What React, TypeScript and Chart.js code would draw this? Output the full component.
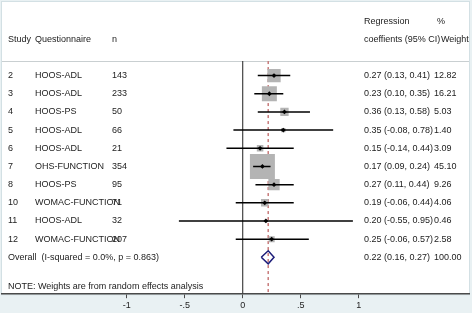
import React, { useEffect, useRef } from "react";
import { Chart, registerables } from "chart.js";
Chart.register(...registerables);

const studies = ["2", "3", "4", "5", "6", "7", "8", "10", "11", "12"];
const questionnaires = ["HOOS-ADL", "HOOS-ADL", "HOOS-PS", "HOOS-ADL", "HOOS-ADL", "OHS-FUNCTION", "HOOS-PS", "WOMAC-FUNCTION", "HOOS-ADL", "WOMAC-FUNCTION"];
const sampleSizes = [143, 233, 50, 66, 21, 354, 95, 71, 32, 207];
const estimates = [0.27, 0.23, 0.36, 0.35, 0.15, 0.17, 0.27, 0.19, 0.20, 0.25];
const lowerCI = [0.13, 0.10, 0.13, -0.08, -0.14, 0.09, 0.11, -0.06, -0.55, -0.06];
const upperCI = [0.41, 0.35, 0.58, 0.78, 0.44, 0.24, 0.44, 0.44, 0.95, 0.57];
const weights = [12.82, 16.21, 5.03, 1.40, 3.09, 45.10, 9.26, 4.06, 0.46, 2.58];
const overallEst = 0.22;
const overallLo = 0.16;
const overallHi = 0.27;
const overallWeight = "100.00";
const overallLabel = "Overall  (I-squared = 0.0%, p = 0.863)";
const noteLabel = "NOTE: Weights are from random effects analysis";
const tickValues = [-1, -0.5, 0, 0.5, 1];
const tickLabels = ["-1", "-.5", "0", ".5", "1"];

const FONT = "'Liberation Sans', Arial, sans-serif";
const f2 = (v: number) => v.toFixed(2);

export default function App() {
  const ref = useRef<HTMLCanvasElement>(null);
  useEffect(() => {
    if (!ref.current) return;
    const yMin = -4.05;
    const yMax = 12.03;
    const sepRow = -0.8;
    const overallRow = studies.length;
    const boxSide = (w: number) => 3.72 * Math.sqrt(w);

    const datasets: any[] = [];
    datasets.push({
      data: estimates.map((e, i) => ({ x: e, y: i })),
      pointStyle: "rectRot",
      pointRadius: 2.4,
      backgroundColor: "#000",
      borderColor: "#000",
      borderWidth: 0,
    });
    lowerCI.forEach((l, i) => {
      datasets.push({
        data: [{ x: l, y: i }, { x: upperCI[i], y: i }],
        showLine: true,
        borderColor: "#000",
        borderWidth: 1.5,
        pointRadius: 0,
      });
    });
    datasets.push({
      data: [
        { x: overallLo, y: overallRow },
        { x: overallEst, y: overallRow - 0.36 },
        { x: overallHi, y: overallRow },
        { x: overallEst, y: overallRow + 0.36 },
        { x: overallLo, y: overallRow },
      ],
      showLine: true,
      borderColor: "#1e1e7a",
      borderWidth: 1.5,
      pointRadius: 0,
      tension: 0,
    });
    datasets.push({
      data: weights.map((w, i) => ({ x: estimates[i], y: i })),
      pointStyle: "rect",
      pointRadius: (c: any) => boxSide(weights[c.dataIndex]) / Math.SQRT2,
      backgroundColor: "#b4b4b4",
      borderWidth: 0,
    });
    datasets.push({
      data: [{ x: overallEst, y: sepRow }, { x: overallEst, y: yMax }],
      showLine: true,
      borderColor: "#c87a7a",
      borderDash: [3, 3],
      borderWidth: 1.5,
      pointRadius: 0,
    });
    datasets.push({
      data: [{ x: 0, y: sepRow }, { x: 0, y: yMax }],
      showLine: true,
      borderColor: "#444",
      borderWidth: 1.2,
      pointRadius: 0,
    });

    const textPlugin = {
      id: "forestText",
      beforeDraw(chart: any) {
        const { ctx, chartArea: a } = chart;
        ctx.save();
        ctx.fillStyle = "#e9f1f3";
        ctx.fillRect(0, 0, chart.width, chart.height);
        ctx.fillStyle = "#ffffff";
        ctx.fillRect(a.left, a.top, a.right - a.left, a.bottom - a.top);
        ctx.strokeStyle = "#d3e0e4";
        ctx.lineWidth = 1;
        ctx.strokeRect(a.left - 0.5, a.top - 0.5, a.right - a.left + 1, a.bottom - a.top + 1);
        const ys = chart.scales.y.getPixelForValue(sepRow);
        ctx.strokeStyle = "#c9cfd1";
        ctx.beginPath();
        ctx.moveTo(a.left, Math.round(ys) + 0.5);
        ctx.lineTo(a.right, Math.round(ys) + 0.5);
        ctx.stroke();
        ctx.restore();
      },
      afterDatasetsDraw(chart: any) {
        const { ctx } = chart;
        const ys = chart.scales.y;
        ctx.save();
        ctx.font = `9px ${FONT}`;
        ctx.fillStyle = "#222";
        ctx.textBaseline = "middle";
        ctx.textAlign = "left";
        const t = (s: string, x: number, row: number) => ctx.fillText(s, x, ys.getPixelForValue(row));
        t("Study", 8, -2);
        t("Questionnaire", 35, -2);
        t("n", 112, -2);
        t("Regression", 364, -3);
        t("coeffients (95% CI)", 364, -2);
        t("%", 437, -3);
        t("Weight", 441, -2);
        studies.forEach((s, i) => {
          t(s, 8, i);
          t(questionnaires[i], 35, i);
          t(String(sampleSizes[i]), 112, i);
          t(`${f2(estimates[i])} (${f2(lowerCI[i])}, ${f2(upperCI[i])})`, 364, i);
          t(f2(weights[i]), 434, i);
        });
        t(overallLabel, 8, overallRow);
        t(`${f2(overallEst)} (${f2(overallLo)}, ${f2(overallHi)})`, 364, overallRow);
        t(overallWeight, 434, overallRow);
        t(noteLabel, 8, 11.6);
        ctx.restore();
      },
    };

    const chart = new Chart(ref.current, {
      type: "scatter",
      data: { datasets },
      plugins: [textPlugin],
      options: {
        animation: false,
        responsive: false,
        layout: { autoPadding: false, padding: { left: 2, top: 2, right: 3, bottom: 0 } },
        plugins: { legend: { display: false }, tooltip: { enabled: false } },
        scales: {
          x: {
            type: "linear",
            min: -2.075,
            max: 1.951,
            afterBuildTicks: (s: any) => {
              s.ticks = tickValues.map((v) => ({ value: v }));
            },
            grid: { drawOnChartArea: false, drawTicks: true, tickLength: 4, color: "#4a4a4a" },
            border: { display: true, color: "#4a4a4a", width: 1.5 },
            ticks: {
              font: { family: FONT, size: 9 },
              color: "#222",
              padding: 2,
              autoSkip: false,
              maxRotation: 0,
              callback: (v: any) => {
                const k = tickValues.indexOf(Number(v));
                return k >= 0 ? tickLabels[k] : "";
              },
            },
          },
          y: { type: "linear", min: yMin, max: yMax, reverse: true, display: false },
        },
      },
    } as any);
    return () => chart.destroy();
  }, []);
  return (
    <div style={{ position: "fixed", left: 0, top: 0, width: 472, height: 313 }}>
      <canvas ref={ref} width={472} height={313} />
    </div>
  );
}
